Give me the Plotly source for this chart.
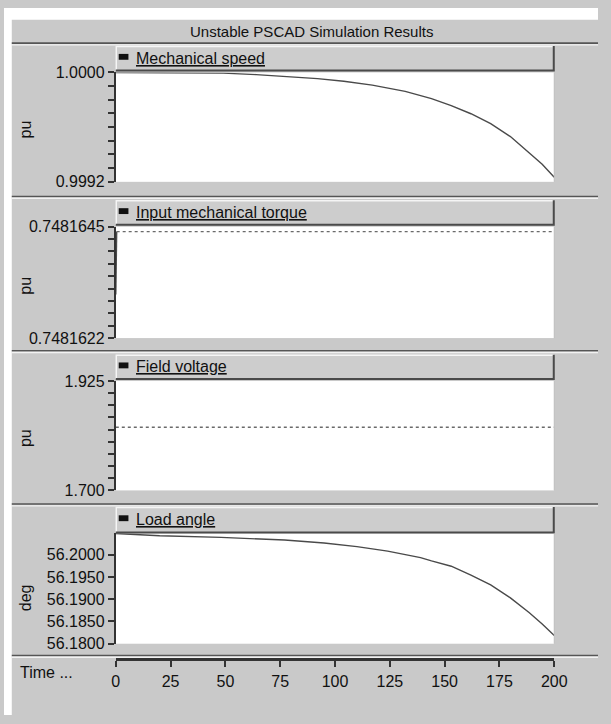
import plotly.graph_objects as go

# ---- simulation traces (time in s) ----
t_speed = [0, 23, 49, 64, 76, 92, 104, 117, 132, 144, 153, 162, 171, 180, 188.5, 194.5, 200]
speed_pu = [1.000000, 1.000000, 0.999995, 0.999984, 0.999971, 0.999955, 0.999936, 0.999907,
            0.999862, 0.999808, 0.999757, 0.999698, 0.999626, 0.999531, 0.999412, 0.999329, 0.999234]

t_torque = [0, 0.4, 200]
torque_pu = [0.7481631, 0.7481644, 0.7481644]

t_field = [0, 200]
field_pu = [1.830, 1.830]

t_angle = [0, 20, 48, 64, 77, 95, 110, 124, 139, 144, 153, 162, 171, 180, 188.5, 194.5, 200]
angle_deg = [56.20478, 56.20425, 56.20390, 56.20359, 56.20330, 56.20264, 56.20183, 56.20081,
             56.19935, 56.19861, 56.19742, 56.19544, 56.19324, 56.19031, 56.18700, 56.18443, 56.18187]

# ---- axis labelling ----
title_text = "Unstable PSCAD Simulation Results"
panel_names = ["Mechanical speed", "Input mechanical torque", "Field voltage", "Load angle"]
unit_labels = ["pu", "pu", "pu", "deg"]
y_ranges = [(0.9992, 1.0000), (0.7481622, 0.7481645), (1.700, 1.925), (56.1800, 56.2048)]
y_end_labels = [("0.9992", "1.0000"), ("0.7481622", "0.7481645"), ("1.700", "1.925")]
y_minor_counts = [8, 9, 9]
angle_ticks = [56.1800, 56.1850, 56.1900, 56.1950, 56.2000]
angle_ticktext = ["56.1800", "56.1850", "56.1900", "56.1950", "56.2000"]
time_ticks = [0, 25, 50, 75, 100, 125, 150, 175, 200]
time_label = "Time ..."

# ---- page geometry (pixels) ----
W, H = 611, 724
BG = "#c9c9c9"
DARK = "#333333"
FONT = "Liberation Sans, Arial, sans-serif"
FS = 16


def fx(x):
    return x / W


def fy(y):
    return 1 - y / H


X_LEFT, X_RIGHT = 115, 566
plot_rows = [(66, 178), (224, 338), (382, 494), (538, 651)]
header_rows = [(39, 64), (197, 222), (355, 380), (511, 537)]
separators = [36, 193, 351, 508, 663]
unit_y = [124, 284, 440, 604]
TIME_AXIS_Y = 667

fig = go.Figure()

# (x, y, dash, colour, axis index)
series = [(t_speed, speed_pu, "solid", "#4a4a4a", 0),
          (t_torque[:2], torque_pu[:2], "solid", "#4a4a4a", 1),
          (t_torque[1:], torque_pu[1:], "dot", "#6a6a6a", 1),
          (t_field, field_pu, "dot", "#6a6a6a", 2),
          (t_angle, angle_deg, "solid", "#4a4a4a", 3)]

for tx, vy, dash, col, i in series:
    sfx = "" if i == 0 else str(i + 1)
    fig.add_trace(go.Scatter(x=tx, y=vy, mode="lines", xaxis="x" + sfx, yaxis="y" + sfx,
                             line=dict(color=col, width=1.4, dash=dash),
                             showlegend=False, hoverinfo="skip"))

layout = dict(width=W, height=H, margin=dict(l=0, r=0, t=0, b=0),
              paper_bgcolor=BG, plot_bgcolor="white", showlegend=False,
              font=dict(family=FONT, size=FS, color="#111111"))

tick_font = dict(family=FONT, size=FS, color="#111111")

for i, (top, bot) in enumerate(plot_rows):
    sfx = "" if i == 0 else str(i + 1)
    xa = dict(domain=[fx(X_LEFT), fx(X_RIGHT)], range=[0, 200], showgrid=False,
              zeroline=False, anchor="y" + sfx)
    if i < 3:
        xa.update(showticklabels=False, showline=False, ticks="")
    else:
        xa.update(anchor="free", position=fy(TIME_AXIS_Y), showline=True,
                  linecolor=DARK, linewidth=3, ticks="outside", ticklen=6,
                  tickwidth=2, tickcolor=DARK, tickvals=time_ticks,
                  ticktext=[str(v) for v in time_ticks], tickfont=tick_font)
    lo, hi = y_ranges[i]
    ya = dict(domain=[fy(bot), fy(top)], range=[lo, hi], showgrid=False, zeroline=False,
              showline=True, linecolor=DARK, linewidth=2, ticks="outside", ticklen=6,
              tickwidth=2, tickcolor=DARK, tickfont=tick_font, anchor="x" + sfx)
    if i < 3:
        n = y_minor_counts[i]
        vals = [lo + (hi - lo) * k / n for k in range(n + 1)]
        txt = [""] * (n + 1)
        txt[0], txt[-1] = y_end_labels[i]
        ya.update(tickvals=vals, ticktext=txt)
    else:
        ya.update(tickvals=angle_ticks, ticktext=angle_ticktext)
    layout["xaxis" + sfx] = xa
    layout["yaxis" + sfx] = ya

shapes = []
# white page margins (top and left)
shapes.append(dict(type="rect", xref="paper", yref="paper", x0=0, x1=1, y0=fy(12), y1=1,
                   fillcolor="white", line=dict(width=0), layer="below"))
shapes.append(dict(type="rect", xref="paper", yref="paper", x0=0, x1=fx(8), y0=0, y1=1,
                   fillcolor="white", line=dict(width=0), layer="below"))
# etched separators between panels
for s in separators:
    shapes.append(dict(type="line", xref="paper", yref="paper", x0=fx(8), x1=1,
                       y0=fy(s), y1=fy(s), line=dict(color="#555555", width=1.6)))
    shapes.append(dict(type="line", xref="paper", yref="paper", x0=fx(8), x1=1,
                       y0=fy(s + 1.8), y1=fy(s + 1.8), line=dict(color="#f2f2f2", width=1.4)))
# header bars with raised borders and a black marker square
for (h0, h1) in header_rows:
    shapes.append(dict(type="rect", xref="paper", yref="paper", x0=fx(X_LEFT), x1=fx(X_RIGHT),
                       y0=fy(h1), y1=fy(h0), fillcolor="#cdcdcd", line=dict(width=0)))
    shapes.append(dict(type="path", xref="paper", yref="paper",
                       path=f"M {fx(X_LEFT + 0.5)} {fy(h1)} L {fx(X_LEFT + 0.5)} {fy(h0 + 0.5)} "
                            f"L {fx(X_RIGHT)} {fy(h0 + 0.5)}",
                       line=dict(color="#f5f5f5", width=1.5)))
    shapes.append(dict(type="path", xref="paper", yref="paper",
                       path=f"M {fx(X_LEFT)} {fy(h1)} L {fx(X_RIGHT - 0.5)} {fy(h1)} "
                            f"L {fx(X_RIGHT - 0.5)} {fy(h0)}",
                       line=dict(color="#4a4a4a", width=2)))
    cy = (h0 + h1) / 2 - 1.5
    shapes.append(dict(type="rect", xref="paper", yref="paper", x0=fx(118), x1=fx(128),
                       y0=fy(cy + 3), y1=fy(cy - 3), fillcolor="#111111", line=dict(width=0)))
# thin frame line on the right of each plot area
for (top, bot) in plot_rows:
    shapes.append(dict(type="line", xref="paper", yref="paper", x0=fx(X_RIGHT), x1=fx(X_RIGHT),
                       y0=fy(bot), y1=fy(top), line=dict(color="#bdbdbd", width=1)))

annotations = []
annotations.append(dict(text=title_text, xref="paper", yref="paper", x=fx(316), y=fy(24),
                        showarrow=False, xanchor="center", yanchor="middle",
                        font=dict(family=FONT, size=15, color="#111111")))
for i, (h0, h1) in enumerate(header_rows):
    annotations.append(dict(text=panel_names[i], xref="paper", yref="paper", x=fx(134),
                            y=fy((h0 + h1) / 2), showarrow=False, xanchor="left",
                            yanchor="middle",
                            font=dict(family=FONT, size=FS, color="#111111",
                                      lineposition="under")))
for i, uy in enumerate(unit_y):
    annotations.append(dict(text=unit_labels[i], xref="paper", yref="paper", x=fx(22),
                            y=fy(uy), showarrow=False, textangle=-90, xanchor="center",
                            yanchor="middle", font=dict(family=FONT, size=FS, color="#111111")))
annotations.append(dict(text=time_label, xref="paper", yref="paper", x=fx(14), y=fy(680),
                        showarrow=False, xanchor="left", yanchor="middle",
                        font=dict(family=FONT, size=FS, color="#111111")))

layout["shapes"] = shapes
layout["annotations"] = annotations
fig.update_layout(**layout)

fig.write_html("out.html")
